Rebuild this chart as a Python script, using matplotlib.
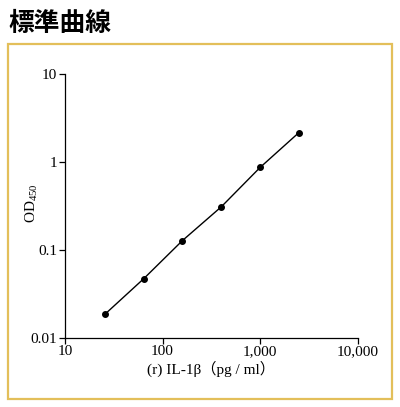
import matplotlib
matplotlib.use("Agg")
import matplotlib.pyplot as plt
from matplotlib.patches import Rectangle
from matplotlib.ticker import FixedLocator, NullLocator

plt.rcParams['mathtext.fontset'] = 'custom'
plt.rcParams['mathtext.rm'] = 'Liberation Serif'

concentration = [25.6, 64, 160, 400, 1000, 2500]
od450 = [0.0185, 0.047, 0.128, 0.31, 0.87, 2.17]
x_ticks = [10, 100, 1000, 10000]
x_tick_labels = ["10", "100", "1,000", "10,000"]
y_ticks = [0.01, 0.1, 1, 10]
y_tick_labels = ["0.01", "0.1", "1", "10"]
title = "標準曲線"
x_label = "(r) IL-1β（pg / ml）"
y_label = r"OD$_{\mathrm{450}}$"

fig = plt.figure(figsize=(4.0, 4.07), dpi=100)
fig.patch.set_facecolor("white")

# golden frame
fig.patches.append(Rectangle((0.019, 0.0197), 0.9605, 0.872, transform=fig.transFigure,
                             fill=False, edgecolor="#E3BF5A", linewidth=1.6))

fig.text(0.02, 0.943, title, fontsize=18.5, fontweight="bold",
         family=["Noto Sans CJK JP"], ha="left", va="center", color="black")

ax = fig.add_axes([0.1625, 0.170, 0.7317, 0.6475])
ax.plot(concentration, od450, color="black", lw=1.0, marker="o", ms=4, mec="black", mfc="black")
ax.set_xscale("log")
ax.set_yscale("log")
ax.set_xlim(10, 10000)
ax.set_ylim(0.01, 10)
ax.xaxis.set_major_locator(FixedLocator(x_ticks))
ax.yaxis.set_major_locator(FixedLocator(y_ticks))
ax.xaxis.set_minor_locator(NullLocator())
ax.yaxis.set_minor_locator(NullLocator())
ax.set_xticklabels(x_tick_labels)
ax.set_yticklabels(y_tick_labels)
for s in ["top", "right"]:
    ax.spines[s].set_visible(False)
for s in ["left", "bottom"]:
    ax.spines[s].set_linewidth(0.9)
ax.tick_params(axis="both", direction="out", length=4, width=0.9, pad=1.5,
               labelsize=11, colors="black")
for lab in ax.get_xticklabels() + ax.get_yticklabels():
    lab.set_family("Liberation Serif")

ax.set_xlabel(x_label, family=["Liberation Serif", "Noto Sans CJK JP"], fontsize=11)
ax.xaxis.set_label_coords(0.5, -0.117)
ax.xaxis.label.set_va("center")
ax.set_ylabel(y_label, family="Liberation Serif", fontsize=11)
ax.yaxis.set_label_coords(-0.113, 0.51)
ax.yaxis.label.set_va("center")

fig.savefig("out.png", dpi=100)
